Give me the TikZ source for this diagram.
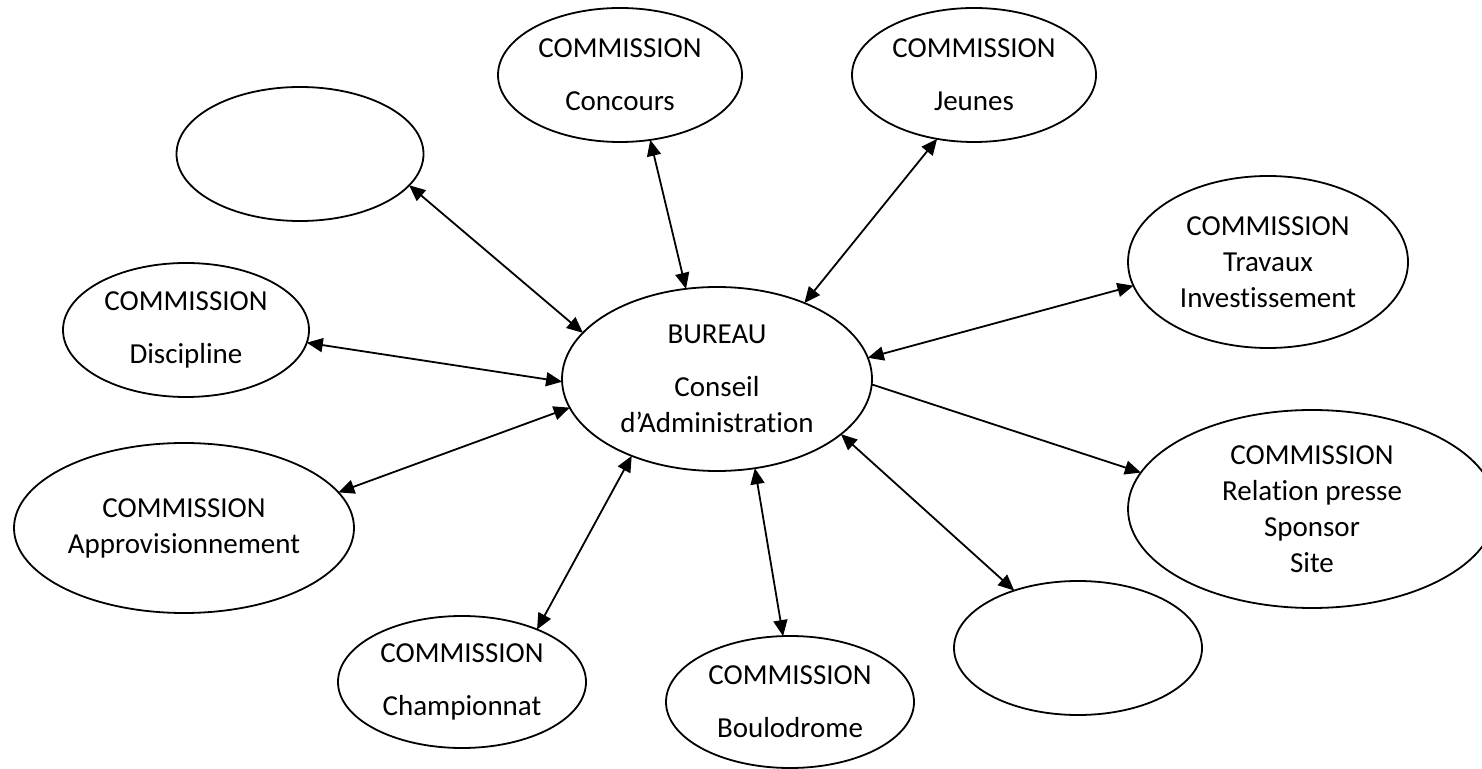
\documentclass[tikz,border=0pt]{standalone}
\usepackage{fontspec}
\setmainfont{Carlito}[Ligatures=NoCommon]
\usetikzlibrary{shapes.geometric,arrows.meta}
\begin{document}
\begin{tikzpicture}[x=0.5pt,y=-0.5pt,
  ell/.style={draw,ellipse,line width=0.9pt,inner sep=0pt,outer sep=0pt,align=center,font=\fontsize{14.5}{18}\selectfont},
  link/.style={line width=0.9pt,{Triangle[length=8pt,width=7pt]}-{Triangle[length=8pt,width=7pt]}},
  onelink/.style={line width=0.9pt,-{Triangle[length=8pt,width=7pt]}}]
\useasboundingbox (0,0) rectangle (1482,769);
\node[ell,minimum width=123.5pt,minimum height=67pt] (tl) at (300,154) {};
\node[ell,minimum width=122pt,minimum height=67pt] (conc) at (620,75) {COMMISSION\\[8.5pt]Concours};
\node[ell,minimum width=122pt,minimum height=67pt] (jeun) at (974,75) {COMMISSION\\[8.5pt]Jeunes};
\node[ell,minimum width=140pt,minimum height=86pt] (trav) at (1268,262) {COMMISSION\\Travaux\\Investissement};
\node[ell,minimum width=123pt,minimum height=67pt] (disc) at (186,330) {COMMISSION\\[8.5pt]Discipline};
\node[ell,minimum width=155pt,minimum height=92pt] (bur) at (717,379) {BUREAU\\[8.5pt]Conseil\\d’Administration};
\node[ell,minimum width=170pt,minimum height=85pt] (appr) at (184,528) {COMMISSION\\Approvisionnement};
\node[ell,minimum width=184pt,minimum height=99pt] (rel) at (1312,509) {COMMISSION\\Relation presse\\Sponsor\\Site};
\node[ell,minimum width=124pt,minimum height=67pt] (ebr) at (1078,648) {};
\node[ell,minimum width=124pt,minimum height=66pt] (champ) at (462,682) {COMMISSION\\[8.5pt]Championnat};
\node[ell,minimum width=124pt,minimum height=66pt] (boul) at (790,702) {COMMISSION\\[8.5pt]Boulodrome};
\draw[link] (tl.-16.3) -- (bur.161.2);
\draw[link] (conc.-65) -- (bur.109.9);
\draw[link] (jeun.-120.3) -- (bur.41.5);
\draw[link] (trav.-170.9) -- (bur.8);
\draw[link] (disc.-6.6) -- (bur.181.5);
\draw[link] (appr.13.7) -- (bur.191.9);
\draw[onelink] (bur.-2.2) -- (rel.168);
\draw[link] (bur.-24.5) -- (ebr.138.3);
\draw[link] (bur.-67.3) -- (boul.96.3);
\draw[link] (bur.-138.7) -- (champ.35.5);
\end{tikzpicture}
\end{document}
